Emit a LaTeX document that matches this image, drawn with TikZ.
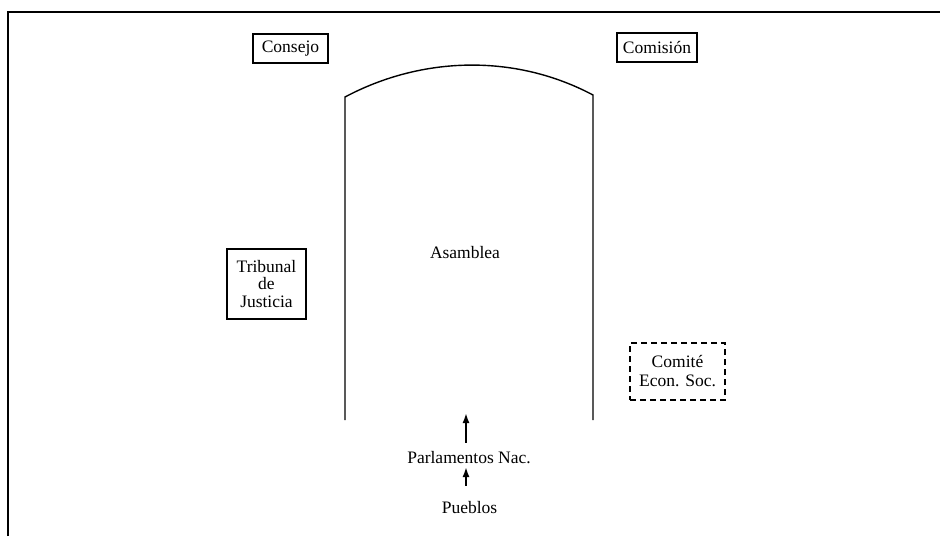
\documentclass[tikz,border=0pt]{standalone}
\usepackage{fontspec}
\setmainfont{Liberation Serif}
\usetikzlibrary{arrows.meta}
\begin{document}
\begin{tikzpicture}[x=1pt,y=-1pt,
  lbl/.style={font=\fontsize{17.5}{17.5}\selectfont, inner sep=0pt, align=center},
  organ/.style={lbl, draw, line width=1.3pt},
  dashedorgan/.style={lbl, draw, line width=1.6pt, dash pattern=on 6pt off 4pt},
  arr/.style={line width=1.8pt, -{Latex[length=10pt,width=7pt]}}]
\useasboundingbox (0,0) rectangle (940,536);
% frame
\draw[line width=2.8pt] (8,536) -- (8,12) -- (940,12);
% assembly arch
\draw[line width=1.4pt] (345,420) -- (345,97) .. controls (422.5,55.8) and (515.5,53.8) .. (593,95) -- (593,420);
% organs
\node[organ, minimum width=75pt, minimum height=29pt] (consejo) at (290.5,48.5) {Consejo};
\node[organ, minimum width=80pt, minimum height=29pt] (comision) at (657,47.5) {Comisión};
\node[organ, minimum width=79pt, minimum height=70pt] (tribunal) at (266.5,284) {Tribunal\\de\\Justicia};
\node[dashedorgan, minimum width=95pt, minimum height=57pt, font=\fontsize{17.5}{19}\selectfont] (comite) at (677.5,371.5) {Comité\\Econ. Soc.};
\node[lbl, anchor=base] (asamblea) at (465,258) {Asamblea};
\node[lbl, anchor=base] (parl) at (469,463) {Parlamentos Nac.};
\node[lbl, anchor=base] (pueblos) at (469.5,513) {Pueblos};
\coordinate (tip1) at (466,413);
\draw[arr] ([xshift=-3pt,yshift=8pt]parl.north) -- (tip1);
\draw[arr] ([xshift=-3.5pt,yshift=15pt]pueblos.north) -- ([xshift=-3pt,yshift=-4pt]parl.base);
\end{tikzpicture}
\end{document}
